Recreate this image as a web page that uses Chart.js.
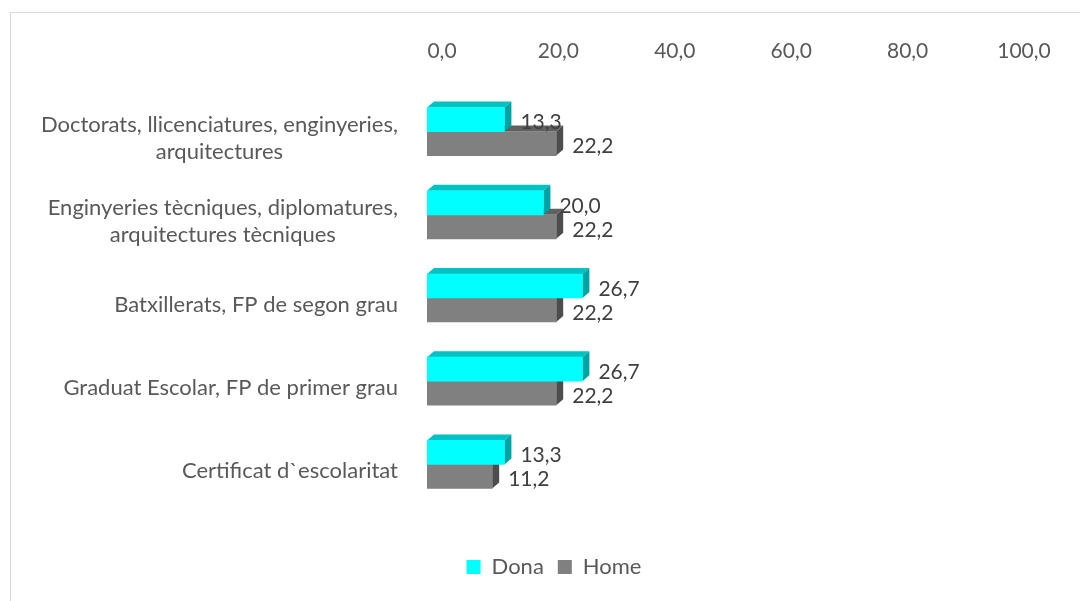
<!DOCTYPE html>
<html><head><meta charset="utf-8">
<script src="https://cdn.jsdelivr.net/npm/chart.js@4.4.1/dist/chart.umd.min.js"></script>
<style>
html,body{margin:0;padding:0;background:#fff;}
#wrap{position:relative;width:1080px;height:601px;overflow:hidden;background:#fff;}
#frame{position:absolute;left:10px;top:12px;width:1200px;height:700px;border-left:1px solid #d9d9d9;border-top:1px solid #d9d9d9;}
canvas{position:absolute;left:0;top:0;}
</style></head><body>
<div id="wrap"><div id="frame"></div><canvas id="c" width="1080" height="601"></canvas></div>
<script>
const categories = [
  ['Doctorats, llicenciatures, enginyeries,', 'arquitectures'],
  ['Enginyeries tècniques, diplomatures,', 'arquitectures tècniques'],
  'Batxillerats, FP de segon grau',
  'Graduat Escolar, FP de primer grau',
  'Certificat d`escolaritat'
];
const seriesNames = ['Dona', 'Home'];
const donaValues = [13.3, 20.0, 26.7, 26.7, 13.3];
const homeValues = [22.2, 22.2, 22.2, 22.2, 11.2];
const xTickValues = [0, 20, 40, 60, 80, 100];

const FONT = 'Lato, "Open Sans", sans-serif';
const fmt = v => Number(v).toFixed(1).replace('.', ',');

const depth = {dx: 7, dy: 6};
const faces = [
  {top: '#00C2C2', side: '#00A3A3'},
  {top: '#606060', side: '#4D4D4D'}
];

const bar3d = {
  id: 'bar3d',
  beforeDatasetsDraw(chart) {
    const ctx = chart.ctx;
    ctx.save();
    for (let d = chart.data.datasets.length - 1; d >= 0; d--) {
      const meta = chart.getDatasetMeta(d);
      meta.data.forEach(el => {
        const p = el.getProps(['x', 'y', 'base', 'height'], true);
        const top = p.y - p.height / 2, bot = p.y + p.height / 2;
        ctx.fillStyle = faces[d].top;
        ctx.beginPath();
        ctx.moveTo(p.base, top);
        ctx.lineTo(p.base + depth.dx, top - depth.dy);
        ctx.lineTo(p.x + depth.dx, top - depth.dy);
        ctx.lineTo(p.x, top);
        ctx.closePath(); ctx.fill();
        ctx.fillStyle = faces[d].side;
        ctx.beginPath();
        ctx.moveTo(p.x, top);
        ctx.lineTo(p.x + depth.dx, top - depth.dy);
        ctx.lineTo(p.x + depth.dx, bot - depth.dy);
        ctx.lineTo(p.x, bot);
        ctx.closePath(); ctx.fill();
      });
    }
    ctx.restore();
  }
};

const valueLabels = {
  id: 'valueLabels',
  afterDatasetsDraw(chart) {
    const ctx = chart.ctx;
    ctx.save();
    ctx.font = '21px ' + FONT;
    ctx.fillStyle = '#404040';
    ctx.textAlign = 'left';
    ctx.textBaseline = 'middle';
    chart.data.datasets.forEach((ds, d) => {
      chart.getDatasetMeta(d).data.forEach((el, i) => {
        const p = el.getProps(['x', 'y'], true);
        ctx.fillText(fmt(ds.data[i]), p.x + 16, p.y + 3);
      });
    });
    ctx.restore();
  }
};

const categoryLabels = {
  id: 'categoryLabels',
  afterDraw(chart) {
    const ctx = chart.ctx;
    const ys = chart.scales.y;
    const right = ys.right - 1;
    ctx.save();
    ctx.font = '22px ' + FONT;
    ctx.fillStyle = '#595959';
    ctx.textAlign = 'center';
    ctx.textBaseline = 'middle';
    const lh = 27;
    categories.forEach((lab, i) => {
      const lines = Array.isArray(lab) ? lab : [lab];
      const w = Math.max(...lines.map(l => ctx.measureText(l).width));
      const cx = right - 28 - w / 2;
      const cy = ys.getPixelForValue(i) + 7;
      lines.forEach((l, j) => {
        ctx.fillText(l, cx, cy + (j - (lines.length - 1) / 2) * lh);
      });
    });
    ctx.restore();
  }
};

new Chart(document.getElementById('c'), {
  type: 'bar',
  data: {
    labels: categories,
    datasets: [
      {label: seriesNames[0], data: donaValues, backgroundColor: '#00FFFF', borderWidth: 0},
      {label: seriesNames[1], data: homeValues, backgroundColor: '#808080', borderWidth: 0}
    ]
  },
  options: {
    indexAxis: 'y',
    responsive: false,
    animation: false,
    devicePixelRatio: 1,
    barThickness: 24,
    layout: {padding: {left: 28, right: 0, top: 0, bottom: 13}},
    plugins: {
      legend: {
        position: 'bottom',
        labels: {boxWidth: 14, boxHeight: 14, padding: 14, color: '#595959', font: {family: FONT, size: 22}}
      },
      tooltip: {enabled: false}
    },
    scales: {
      x: {
        position: 'top',
        min: 0, max: 100,
        afterBuildTicks: s => { s.ticks = xTickValues.map(v => ({value: v})); },
        afterFit: s => { s.height = 90; },
        grid: {display: false, drawTicks: false},
        border: {display: false},
        ticks: {callback: v => fmt(v), color: '#595959', font: {family: FONT, size: 21}, padding: 26, labelOffset: 15, maxRotation: 0, autoSkip: false}
      },
      y: {
        type: 'category',
        position: 'left',
        grid: {display: false, drawTicks: false},
        border: {display: false},
        ticks: {display: false},
        afterFit: s => { s.width = 399; }
      },
      yPad: {
        type: 'linear', axis: 'y', position: 'right', display: true,
        grid: {display: false, drawTicks: false}, border: {display: false}, ticks: {display: false},
        afterFit: s => { s.width = 71; }
      },
      xPad: {
        type: 'linear', axis: 'x', position: 'bottom', display: true,
        grid: {display: false, drawTicks: false}, border: {display: false}, ticks: {display: false},
        afterFit: s => { s.height = 36; }
      }
    }
  },
  plugins: [bar3d, valueLabels, categoryLabels]
});
</script>
</body></html>
